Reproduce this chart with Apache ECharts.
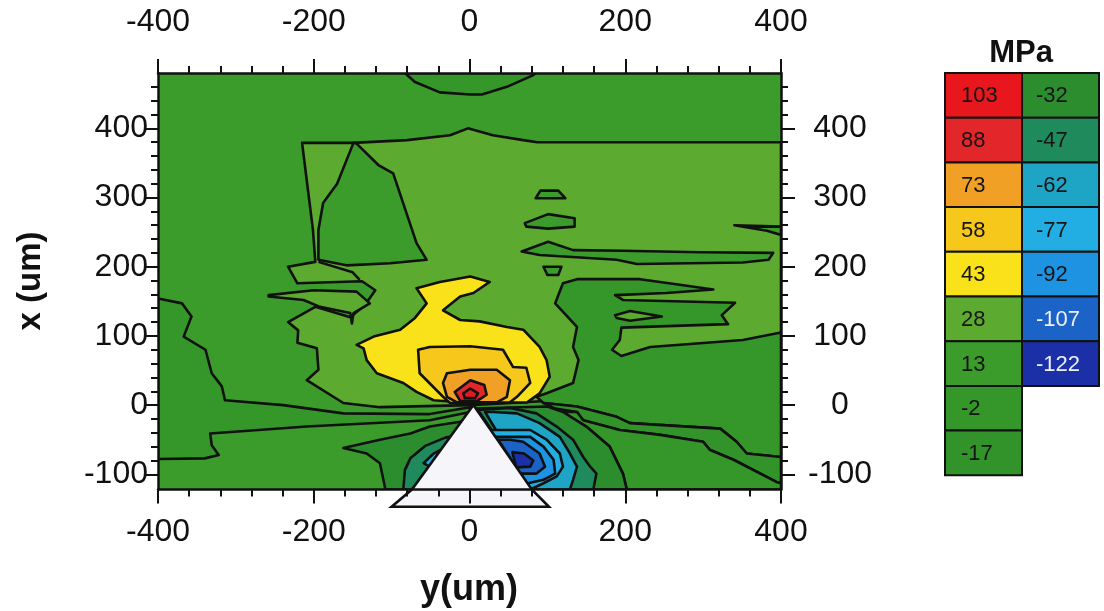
<!DOCTYPE html>
<html>
<head>
<meta charset="utf-8">
<script src="https://cdn.jsdelivr.net/npm/echarts@6/dist/echarts.min.js"></script>
<style>
  html, body { margin: 0; padding: 0; background: #ffffff; }
  #chart { width: 1104px; height: 611px; }
</style>
</head>
<body>
<div id="chart"></div>
<script>
// Stress bands (MPa) listed in the key, with their fill colours
const keyLevelsLeft  = [103, 88, 73, 58, 43, 28, 13, -2, -17];
const keyColorsLeft  = ['#e8171d', '#e2262a', '#f0a024', '#f6c81c', '#fae21a', '#5caa30', '#3c9c2b', '#35962a', '#32932b'];
const keyLevelsRight = [-32, -47, -62, -77, -92, -107, -122];
const keyColorsRight = ['#2c8d2e', '#1f8b5c', '#1ea5c6', '#22aee2', '#1e93e2', '#1b63c7', '#1b30a6'];

// Axis ticks (um)
const xTicks = [-400, -200, 0, 200, 400];
const yTicks = [-100, 0, 100, 200, 300, 400];
const yMinorTicks = [-80, -60, -40, -20, 20, 40, 60, 80, 120, 140, 160, 180,
                     220, 240, 260, 280, 320, 340, 360, 380, 420, 440, 460];
const yRange = [-122, 480];

// Contour regions, vertices as [y (um), x (um)]
const plotArea = [[-400, -122], [400, -122], [400, 480], [-400, 480]];
const topLens = [[-83, 480], [-70, 467], [-38, 452], [1, 449], [16, 449], [48, 460], [82, 477], [85, 480]];
const lightBand = [[-215, 379], [-150, 379], [-80, 383], [-25, 390], [-2, 400], [30, 390], [69, 383], [87, 380],
  [400, 380], [400, 7], [116, 7], [1, 0], [-115, -3], [-162, 3], [-209, 36], [-194, 51], [-196, 82],
  [-221, 90], [-220, 108], [-233, 120], [-198, 142], [-153, 127], [-134, 145], [-121, 166], [-138, 179],
  [-221, 176], [-233, 200], [-198, 207], [-201, 253], [-209, 325]];
const upperWedge = [[-149, 379], [-170, 320], [-188, 292], [-194, 253], [-194, 210], [-158, 202], [-102, 205],
  [-55, 210], [-68, 234], [-98, 335], [-117, 347], [-145, 378]];
const fingerEdge = [[-194, 207], [-150, 192], [-141, 181]];
const leftFinger = [[-258, 159], [-200, 166], [-145, 164], [-128, 147], [-149, 133], [-151, 118], [-153, 133],
  [-192, 142], [-213, 152], [-258, 157]];
const islandA = [[91, 310], [114, 310], [123, 299], [85, 299]];
const islandB = [[71, 263], [101, 276], [135, 270], [135, 258], [101, 255], [73, 258]];
const islandC = [[67, 222], [101, 236], [133, 224], [197, 223], [296, 221], [390, 220], [384, 210], [351, 206],
  [215, 204], [189, 210], [90, 217]];
const islandD = [[95, 200], [118, 200], [114, 188], [100, 188]];
const edgeSliver = [[340, 260], [400, 258], [400, 246], [382, 252]];
const rightLobe = [[110, 147], [120, 176], [138, 182], [219, 182], [270, 174], [313, 167], [253, 162], [187, 159],
  [197, 152], [341, 148], [324, 130], [332, 117], [195, 112], [193, 94], [183, 80], [195, 71], [232, 84],
  [351, 94], [400, 105], [400, -75], [356, -70], [343, -53], [322, -34], [206, -26], [189, -17], [138, -2],
  [95, 3], [86, 12], [99, 17], [133, 32], [140, 65], [133, 84], [138, 113]];
const lobeIsland = [[187, 130], [206, 136], [247, 128], [206, 122], [189, 126]];
const ring43 = [[-145, 87], [-123, 99], [-89, 109], [-70, 126], [-55, 147], [-68, 169], [-38, 178], [1, 186],
  [26, 178], [5, 162], [-12, 157], [-34, 137], [-12, 123], [13, 121], [48, 113], [69, 109], [90, 84],
  [99, 65], [103, 41], [90, 17], [74, 4], [1, 3], [-46, 7], [-68, 19], [-85, 32], [-119, 46], [-132, 65], [-136, 82]];
const ring58 = [[-66, 80], [-51, 84], [1, 85], [43, 80], [56, 55], [73, 54], [78, 32], [61, 12], [52, 4],
  [-25, 3], [-34, 12], [-64, 46]];
const ring73 = [[-34, 32], [-29, 46], [1, 51], [35, 51], [52, 36], [48, 12], [35, 4], [-16, 4], [-29, 12]];
const ring88 = [[-19, 19], [1, 36], [19, 29], [22, 15], [10, 6], [-12, 6]];
const ring103 = [[-8, 17], [1, 24], [11, 17], [7, 10], [-6, 10]];
const leftStrip = [[-400, 154], [-369, 147], [-357, 128], [-367, 99], [-339, 80], [-331, 46], [-318, 27],
  [-314, 7], [-239, 0], [-162, -12], [-51, -13], [1, -3], [1, -10], [-51, -22], [-209, -31], [-333, -41],
  [-331, -58], [-322, -72], [-340, -77], [-400, -78]];
const lowerWedge = [[-162, -62], [-115, -50], [-76, -41], [-51, -31], [-12, -24], [7, -19], [1, -94],
  [-64, -122], [-108, -122], [-115, -84], [-132, -70]];
const tealLeft = [[-85, -122], [-83, -94], [-76, -77], [-57, -59], [-31, -47], [-12, -43], [3, -47], [1, -122]];
const bluePatch = [[-59, -84], [-46, -70], [-38, -65], [-40, -77], [-51, -89]];
const rightBandA = [[95, 3], [138, -2], [189, -17], [206, -26], [322, -34], [343, -53], [356, -70], [400, -75],
  [400, -113], [394, -111], [339, -79], [309, -65], [300, -53], [245, -43], [193, -36], [146, -22], [138, -10], [110, -5]];
const rightBandB = [[138, -10], [146, -22], [193, -36], [245, -43], [300, -53], [309, -65], [339, -79], [394, -111],
  [400, -113], [400, -122], [202, -122], [197, -99], [180, -60], [150, -31], [120, -10]];
const rightBandC = [[100, -2], [120, -10], [150, -31], [180, -60], [197, -99], [202, -122], [80, -122], [5, -5]];
const ringM47 = [[52, -4], [86, -12], [112, -31], [133, -50], [146, -75], [155, -89], [163, -99], [159, -122],
  [80, -122], [11, -7]];
const ringM62 = [[31, -10], [61, -12], [90, -26], [116, -46], [129, -70], [138, -89], [133, -108], [129, -122],
  [80, -122], [20, -10]];
const ringM77 = [[13, -36], [39, -36], [78, -36], [99, -50], [116, -70], [120, -89], [112, -103], [95, -113],
  [78, -122], [60, -122]];
const ringM92 = [[33, -46], [48, -46], [78, -46], [95, -60], [108, -79], [110, -99], [95, -108], [71, -114]];
const ringM107 = [[37, -50], [52, -50], [69, -53], [90, -70], [97, -89], [86, -99], [65, -99]];
const ringM122 = [[55, -68], [70, -70], [82, -80], [78, -89], [60, -90]];

// Indenter outline
const indenter = [[5, 0], [80, -122], [102, -147], [-100, -147], [-74, -122]];

// Paint order: [stress band, outline, kind]
const layers = [
  [13, plotArea, 'fill'],
  [-2, topLens, 'area'],
  [28, lightBand, 'area'],
  [13, upperWedge, 'area'],
  [null, fingerEdge, 'line'],
  [28, leftFinger, 'area'],
  [13, islandA, 'area'],
  [13, islandB, 'area'],
  [13, islandC, 'area'],
  [13, islandD, 'area'],
  [13, edgeSliver, 'area'],
  [-2, rightLobe, 'area'],
  [28, lobeIsland, 'area'],
  [43, ring43, 'area'],
  [58, ring58, 'area'],
  [73, ring73, 'area'],
  [88, ring88, 'area'],
  [103, ring103, 'area'],
  [-2, leftStrip, 'area'],
  [-32, lowerWedge, 'area'],
  [-47, tealLeft, 'area'],
  [-77, bluePatch, 'area'],
  [-17, rightBandA, 'area'],
  [-2, rightBandB, 'area'],
  [-32, rightBandC, 'area'],
  [-47, ringM47, 'area'],
  [-62, ringM62, 'area'],
  [-77, ringM77, 'area'],
  [-92, ringM92, 'area'],
  [-107, ringM107, 'area'],
  [-122, ringM122, 'area']
];

function bandColor(level) {
  let i = keyLevelsLeft.indexOf(level);
  if (i >= 0) return keyColorsLeft[i];
  i = keyLevelsRight.indexOf(level);
  return i >= 0 ? keyColorsRight[i] : 'none';
}

const chart = echarts.init(document.getElementById('chart'), null, { renderer: 'canvas' });

const axisFont = 'Liberation Sans';
const lineCol = '#111111';
const contourWidth = 2.6;

function xAxisDef(pos, margin) {
  return {
    type: 'value', position: pos, min: -400, max: 400, interval: 200,
    axisLine: { show: true, onZero: false, lineStyle: { color: lineCol, width: 2.5 } },
    axisTick: { show: true, inside: false, length: 14, lineStyle: { color: lineCol, width: 2 } },
    minorTick: { show: true, splitNumber: 5, length: 7, lineStyle: { color: lineCol, width: 2 } },
    axisLabel: { show: true, margin: margin, color: '#111', fontSize: 32, fontFamily: axisFont },
    splitLine: { show: false }, minorSplitLine: { show: false }, z: 10
  };
}
function yAxisDef(pos, margin, align) {
  return {
    type: 'value', position: pos, min: yRange[0], max: yRange[1],
    axisLine: { show: true, onZero: false, lineStyle: { color: lineCol, width: 2.5 } },
    axisTick: { show: true, inside: false, length: 14, customValues: yTicks, lineStyle: { color: lineCol, width: 2 } },
    axisLabel: { show: true, customValues: yTicks, margin: margin, align: align, color: '#111', fontSize: 32, fontFamily: axisFont },
    splitLine: { show: false }, z: 10
  };
}
function yMinorDef(pos) {
  return {
    type: 'value', position: pos, min: yRange[0], max: yRange[1],
    axisLine: { show: false, onZero: false },
    axisTick: { show: true, inside: false, length: 7, customValues: yMinorTicks, lineStyle: { color: lineCol, width: 2 } },
    axisLabel: { show: false },
    splitLine: { show: false }, z: 10
  };
}

// Key: two columns of coloured boxes
const keyTop = 73, keyRowH = 44.7, keyColX = [945, 1022], keyColW = 77;
const keyGraphics = [];
function addKeyColumn(levels, colors, col, lightText) {
  levels.forEach((lv, i) => {
    keyGraphics.push({
      type: 'rect', z: 20,
      shape: { x: keyColX[col], y: keyTop + i * keyRowH, width: keyColW, height: keyRowH },
      style: { fill: colors[i], stroke: '#111', lineWidth: 2 }
    });
    keyGraphics.push({
      type: 'text', z: 21,
      x: keyColX[col] + (col === 0 ? 16 : 14), y: keyTop + (i + 0.5) * keyRowH + 1,
      style: {
        text: String(lv), fill: lightText(lv) ? '#eef0f8' : '#151515',
        font: '22px "Liberation Sans", Arial, sans-serif', textAlign: 'left', textVerticalAlign: 'middle'
      }
    });
  });
}
addKeyColumn(keyLevelsLeft, keyColorsLeft, 0, () => false);
addKeyColumn(keyLevelsRight, keyColorsRight, 1, lv => lv <= -107);

const option = {
  backgroundColor: '#ffffff',
  animation: false,
  grid: { left: 158, top: 73, width: 623, height: 416.5, containLabel: false },
  xAxis: [xAxisDef('bottom', 27), xAxisDef('top', 35)],
  yAxis: [yAxisDef('left', 10, 'right'), yAxisDef('right', 59, 'center'), yMinorDef('left'), yMinorDef('right')],
  series: [
    {
      type: 'custom', coordinateSystem: 'cartesian2d', xAxisIndex: 0, yAxisIndex: 0,
      clip: true, z: 2, silent: true,
      data: layers.map((l, i) => [i]),
      renderItem: function (params, api) {
        const layer = layers[params.dataIndex];
        const pts = layer[1].map(p => api.coord(p));
        if (layer[2] === 'line') {
          return { type: 'polyline', shape: { points: pts },
                   style: { fill: null, stroke: lineCol, lineWidth: contourWidth, lineJoin: 'round' } };
        }
        return {
          type: 'polygon', shape: { points: pts },
          style: {
            fill: bandColor(layer[0]),
            stroke: layer[2] === 'fill' ? null : lineCol,
            lineWidth: contourWidth, lineJoin: 'round'
          }
        };
      }
    },
    {
      type: 'custom', coordinateSystem: 'cartesian2d', xAxisIndex: 0, yAxisIndex: 0,
      clip: false, z: 3, silent: true,
      data: [[0]],
      renderItem: function (params, api) {
        return {
          type: 'polygon', shape: { points: indenter.map(p => api.coord(p)) },
          style: { fill: '#f5f5fa', stroke: lineCol, lineWidth: contourWidth, lineJoin: 'miter' }
        };
      }
    }
  ],
  graphic: [
    {
      type: 'text', x: 31, y: 281, rotation: Math.PI / 2, z: 20,
      style: { text: 'x (um)', font: 'bold 33px "Liberation Sans", Arial, sans-serif', fill: '#111',
               textAlign: 'center', textVerticalAlign: 'middle' }
    },
    {
      type: 'text', x: 469, y: 590, z: 20,
      style: { text: 'y(um)', font: 'bold 36px "Liberation Sans", Arial, sans-serif', fill: '#111',
               textAlign: 'center', textVerticalAlign: 'middle' }
    },
    {
      type: 'text', x: 1021, y: 53, z: 20,
      style: { text: 'MPa', font: 'bold 31px "Liberation Sans", Arial, sans-serif', fill: '#111',
               textAlign: 'center', textVerticalAlign: 'middle' }
    }
  ].concat(keyGraphics)
};

chart.setOption(option);
</script>
</body>
</html>
